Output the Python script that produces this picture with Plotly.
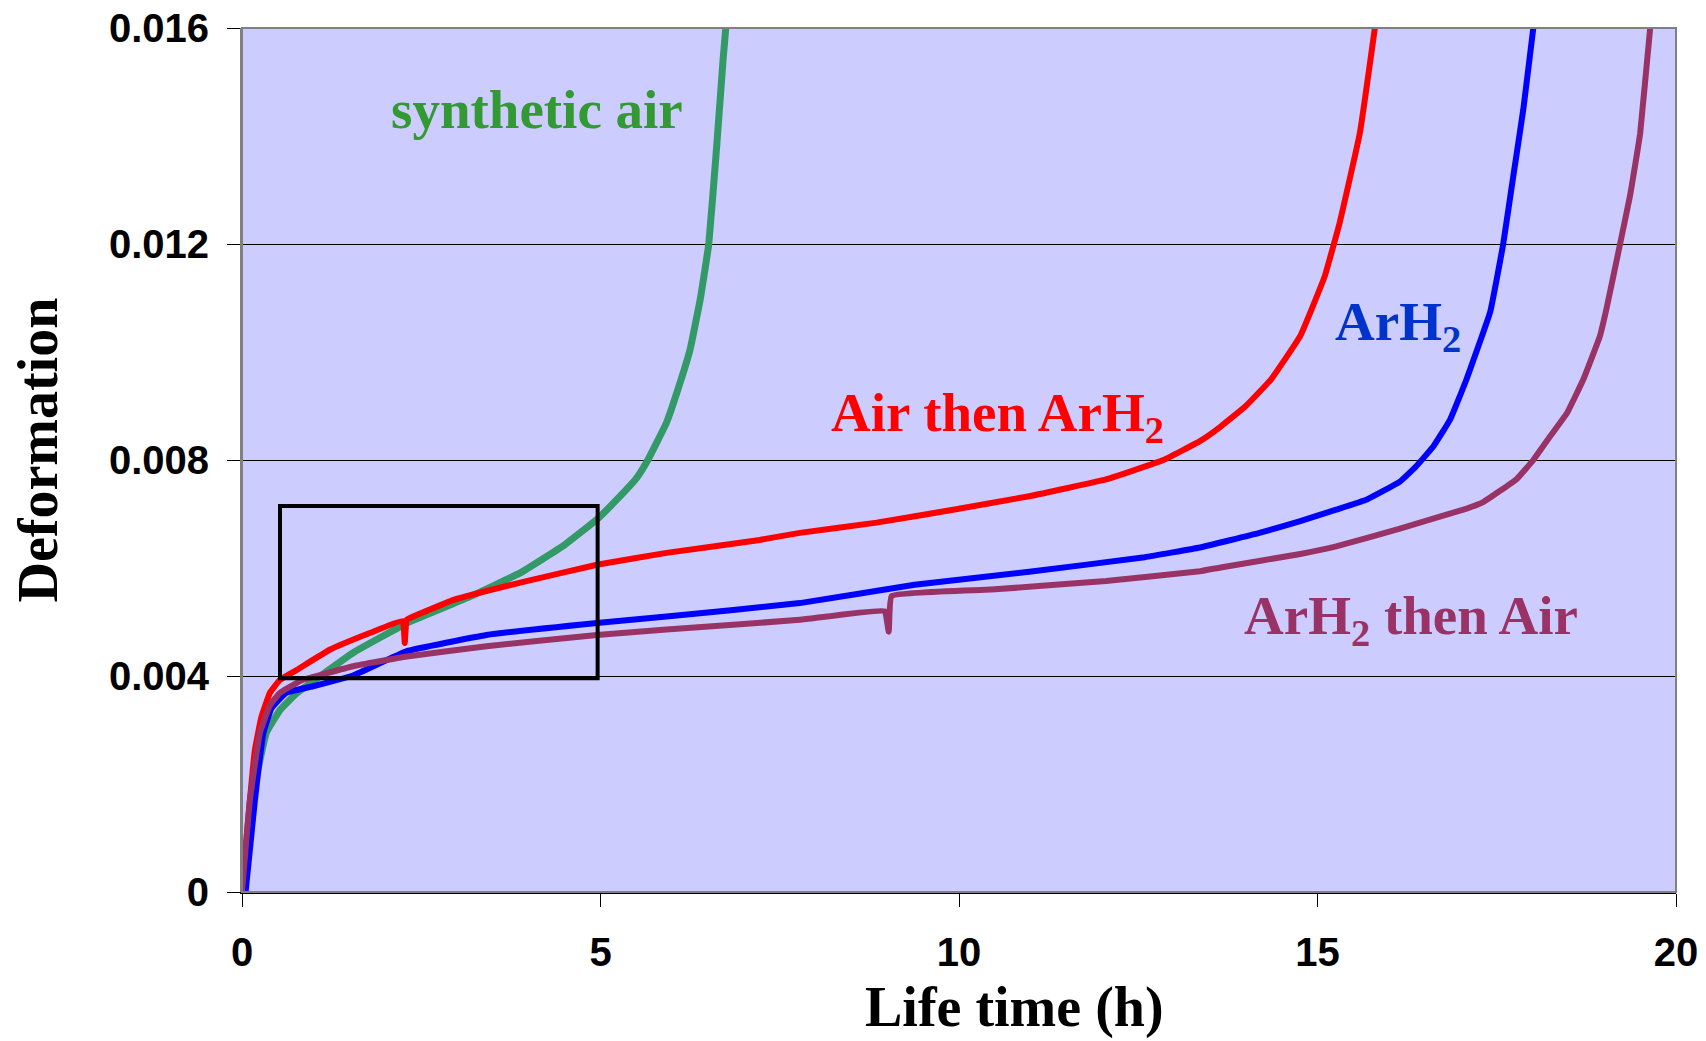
import plotly.graph_objects as go

# ---- data ----
air_h = [0, 0.135, 0.34, 0.53, 0.76, 0.99, 1.55, 2.30, 3.18, 3.88, 4.5, 4.95, 5.23, 5.50, 5.66,
         5.92, 6.09, 6.25, 6.39, 6.51, 6.62, 6.71, 6.76]
air_d = [0, 0.0017, 0.00295, 0.00337, 0.00368, 0.00390, 0.00443, 0.00498, 0.00547, 0.00591, 0.00643,
         0.0069, 0.00727, 0.00766, 0.0080, 0.00869, 0.00935, 0.01005, 0.01097, 0.0120, 0.0138, 0.01542, 0.0162]

air_arh2_h = [0, 0.11, 0.18, 0.27, 0.39, 0.53, 0.76, 1.23, 1.79, 2.24, 2.27, 2.30, 2.62, 2.95, 3.88,
              4.95, 5.92, 7.22, 7.78, 8.85, 9.92, 10.98, 12.05, 12.85, 13.36, 13.65, 14.0, 14.35, 14.76,
              15.10, 15.31, 15.59, 15.80, 15.85]
air_arh2_d = [0, 0.0017, 0.00263, 0.00324, 0.00369, 0.00393, 0.00411, 0.00449, 0.0048, 0.00502, 0.00461,
              0.00504, 0.00523, 0.00541, 0.00573, 0.00606, 0.00628, 0.00652, 0.00665, 0.00684, 0.00708,
              0.00733, 0.00764, 0.0080, 0.00835, 0.00862, 0.0090, 0.00949, 0.0103, 0.0114, 0.0124, 0.01405,
              0.0160, 0.0165]

arh2_h = [0.05, 0.18, 0.30, 0.41, 0.62, 0.99, 1.55, 2.30, 3.41, 4.95, 5.92, 7.78, 9.38, 10.98, 12.59,
          13.36, 14.19, 14.76, 15.26, 15.69, 16.15, 16.38, 16.62, 16.85, 17.08, 17.41, 17.59, 17.73,
          17.87, 18.01, 18.05]
arh2_d = [0, 0.0017, 0.00295, 0.0034, 0.00369, 0.00381, 0.00401, 0.00446, 0.00476, 0.00498, 0.0051,
          0.00535, 0.00569, 0.00593, 0.0062, 0.00638, 0.00665, 0.00687, 0.00708, 0.00727, 0.0076,
          0.00789, 0.00826, 0.00875, 0.0095, 0.01075, 0.0120, 0.01325, 0.01449, 0.0160, 0.0164]

arh2_air_h = [0, 0.11, 0.25, 0.39, 0.53, 0.76, 0.85, 1.55, 2.30, 3.41, 4.95, 5.92, 7.78, 8.96, 9.02,
              9.06, 10.45, 12.05, 13.36, 13.65, 14.76, 15.26, 16.15, 17.08, 17.31, 17.78, 18.01, 18.24,
              18.48, 18.71, 18.94, 19.03, 19.22, 19.36, 19.50, 19.64, 19.68]
arh2_air_d = [0, 0.0017, 0.00295, 0.00346, 0.00369, 0.00387, 0.00393, 0.00418, 0.00436, 0.00455, 0.00476,
              0.00486, 0.00504, 0.0052, 0.00482, 0.00548, 0.0056, 0.00576, 0.00594, 0.00601, 0.00626,
              0.0064, 0.00673, 0.0071, 0.00722, 0.00765, 0.0080, 0.00843, 0.00887, 0.0095, 0.0103,
              0.0108, 0.0120, 0.0129, 0.01405, 0.0160, 0.0164]

y_ticks = [0, 0.004, 0.008, 0.012, 0.016]
y_tick_text = ["0", "0.004", "0.008", "0.012", "0.016"]
x_ticks = [0, 5, 10, 15, 20]

serif = "Liberation Serif, Times New Roman, serif"
sans = "Liberation Sans, Arial, sans-serif"

fig = go.Figure()
series = [
    (air_h, air_d, "#339966", "synthetic air", 7),
    (air_arh2_h, air_arh2_d, "#FF0000", "Air then ArH2", 6),
    (arh2_h, arh2_d, "#0000FF", "ArH2", 6),
    (arh2_air_h, arh2_air_d, "#993366", "ArH2 then Air", 6),
]
for xs, ys, col, name, w in series:
    fig.add_trace(go.Scatter(x=xs, y=ys, mode="lines", name=name,
                             line=dict(color=col, width=w, shape="spline", smoothing=0.3)))

labels = [
    (4.11, 0.01450, "synthetic air", "#339933"),
    (10.54, 0.00880, "Air then ArH<sub>2</sub>", "#FF0000"),
    (16.12, 0.0105, "ArH<sub>2</sub>", "#0033CC"),
    (16.31, 0.00505, "ArH<sub>2</sub> then Air", "#993366"),
]
for x, y, t, c in labels:
    fig.add_annotation(x=x, y=y, text="<b>" + t + "</b>", showarrow=False,
                       font=dict(family=serif, size=55, color=c),
                       xanchor="center", yanchor="middle")

# axis titles (offset as in the reference)
fig.add_annotation(xref="paper", yref="paper", x=0.539, y=0, yshift=-115,
                   text="<b>Life time (h)</b>", showarrow=False,
                   font=dict(family=serif, size=56, color="black"),
                   xanchor="center", yanchor="middle")
fig.add_annotation(xref="paper", yref="paper", x=0, xshift=-204, y=0.511,
                   text="<b>Deformation</b>", showarrow=False, textangle=-90,
                   font=dict(family=serif, size=56, color="black"),
                   xanchor="center", yanchor="middle")

# highlighted region box
fig.add_shape(type="rect", xref="x", yref="y", x0=0.53, x1=4.96, y0=0.00396, y1=0.00715,
              line=dict(color="black", width=4))
# plot frame
fig.add_shape(type="rect", xref="paper", yref="paper", x0=0, x1=1, y0=0, y1=1,
              line=dict(color="#808080", width=2), layer="above")

fig.update_layout(
    width=1706, height=1041,
    margin=dict(l=242, r=30, t=28, b=149, autoexpand=False),
    paper_bgcolor="white", plot_bgcolor="#CCCCFF",
    showlegend=False,
    xaxis=dict(range=[0, 20], tickvals=x_ticks, ticks="outside", ticklen=13, tickcolor="black",
               tickfont=dict(family=sans, size=40, color="black", weight="bold"),
               showgrid=False, zeroline=False, showline=True, linecolor="black", linewidth=2,
               ticklabelstandoff=11, automargin=False),
    yaxis=dict(range=[0, 0.016], tickvals=y_ticks, ticktext=y_tick_text, ticks="outside", ticklen=13,
               tickcolor="black",
               tickfont=dict(family=sans, size=40, color="black", weight="bold"),
               showgrid=True, gridcolor="black", gridwidth=1, zeroline=False,
               showline=True, linecolor="#808080", linewidth=2,
               ticklabelstandoff=10, automargin=False),
)

fig.write_html("out.html")
